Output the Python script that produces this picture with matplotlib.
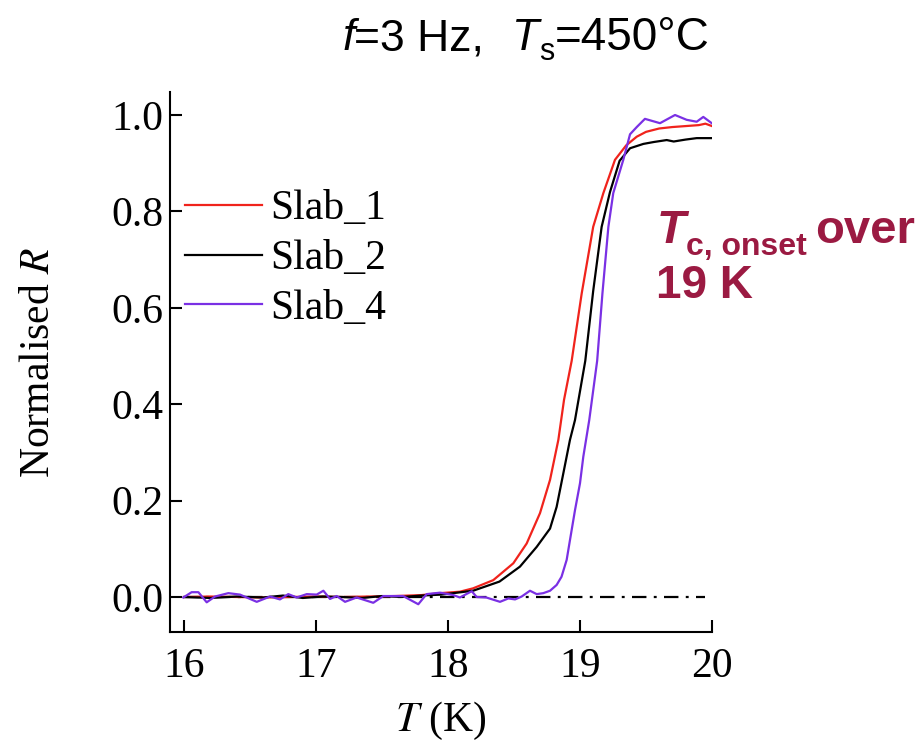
import matplotlib
matplotlib.use("Agg")
import matplotlib.pyplot as plt
from matplotlib.transforms import IdentityTransform

# normalised resistance vs temperature, three slabs
T_slab1 = [16.0, 16.2, 16.4, 16.6, 16.8, 17.0, 17.2, 17.4, 17.6, 17.8, 17.94, 18.09,
           18.19, 18.343, 18.495, 18.596, 18.697, 18.773, 18.836, 18.879, 18.937,
           19.013, 19.1, 19.177, 19.265, 19.35, 19.43, 19.5, 19.6, 19.7, 19.8, 19.9,
           19.95, 20.0]
R_slab1 = [0.0, 0.001, 0.0, -0.001, 0.0, 0.001, 0.0, 0.001, 0.002, 0.004, 0.008, 0.011,
           0.018, 0.035, 0.07, 0.111, 0.174, 0.243, 0.326, 0.409, 0.49,
           0.63, 0.768, 0.838, 0.907, 0.937, 0.955, 0.965, 0.972, 0.975, 0.977, 0.979,
           0.982, 0.977]

T_slab2 = [16.0, 16.2, 16.4, 16.6, 16.75, 16.9, 17.05, 17.2, 17.35, 17.5, 17.65, 17.8,
           17.95, 18.19, 18.39, 18.545, 18.672, 18.773, 18.823, 18.874, 18.924, 18.962,
           19.04, 19.1, 19.164, 19.227, 19.3, 19.379, 19.48, 19.56, 19.657, 19.71,
           19.8, 19.884, 20.0]
R_slab2 = [0.0, -0.002, 0.001, -0.001, 0.003, -0.002, 0.001, 0.0, -0.002, 0.002, 0.0, 0.003,
           0.005, 0.013, 0.032, 0.063, 0.104, 0.142, 0.187, 0.257, 0.326, 0.367,
           0.49, 0.635, 0.768, 0.84, 0.905, 0.931, 0.94, 0.944, 0.948, 0.945,
           0.949, 0.952, 0.952]

T_slab4 = [15.995, 16.058, 16.109, 16.172, 16.235, 16.336, 16.424, 16.551, 16.652, 16.727,
           16.79, 16.854, 16.93, 17.005, 17.056, 17.106, 17.157, 17.22, 17.308, 17.434,
           17.51, 17.66, 17.775, 17.838, 17.94, 18.04, 18.09, 18.18, 18.217, 18.29,
           18.394, 18.457, 18.508, 18.558, 18.621, 18.672, 18.722, 18.773, 18.823,
           18.86, 18.899, 18.924, 18.962, 19.0, 19.025, 19.07, 19.13, 19.17, 19.215,
           19.252, 19.328, 19.379, 19.43, 19.492, 19.606, 19.72, 19.808, 19.884,
           19.934, 19.998]
R_slab4 = [-0.001, 0.010, 0.010, -0.011, 0.001, 0.008, 0.005, -0.010, 0.001, -0.005,
           0.006, -0.001, 0.006, 0.005, 0.013, -0.004, 0.002, -0.010, -0.001, -0.012,
           0.002, 0.002, -0.015, 0.006, 0.009, 0.004, -0.001, 0.012, 0.0, -0.001,
           -0.010, -0.003, -0.005, 0.001, 0.013, 0.006, 0.008, 0.013, 0.025,
           0.042, 0.077, 0.118, 0.18, 0.236, 0.291, 0.367, 0.49, 0.63, 0.768,
           0.838, 0.907, 0.96, 0.975, 0.992, 0.983, 1.0, 0.99, 0.986,
           0.996, 0.983]

labels = ["Slab_1", "Slab_2", "Slab_4"]
colors = ["#f0231c", "#000000", "#7a30e4"]

plt.rcParams["font.family"] = "Liberation Serif"
plt.rcParams["mathtext.fontset"] = "stix"

W, H = 919, 745
fig = plt.figure(figsize=(W / 100, H / 100), dpi=100)
ax = fig.add_axes([170 / W, 1 - 632 / H, (712 - 170) / W, (632 - 92) / H])

ax.plot([16, 19.95], [0, 0], color="black", lw=1.6, dashes=(6.5, 3.3, 1.3, 3.3), zorder=1)
for T, R, lab, c in zip([T_slab1, T_slab2, T_slab4], [R_slab1, R_slab2, R_slab4], labels, colors):
    ax.plot(T, R, color=c, lw=1.6, label=lab, zorder=2)

ax.set_xlim(15.894, 20)
ax.set_ylim(-0.0726, 1.0477)
ax.set_xticks([16, 17, 18, 19, 20])
ax.set_yticks([0.0, 0.2, 0.4, 0.6, 0.8, 1.0])
ax.set_yticklabels(["0.0", "0.2", "0.4", "0.6", "0.8", "1.0"])
for s in ["top", "right"]:
    ax.spines[s].set_visible(False)
for s in ["left", "bottom"]:
    ax.spines[s].set_linewidth(1.5)
ax.tick_params(direction="in", length=8.5, width=1.5, labelsize=30)
ax.tick_params(axis="x", pad=11)
ax.tick_params(axis="y", pad=5)
ax.set_xlabel("$T$ (K)", fontsize=30, labelpad=10)
ax.set_ylabel("Normalised $R$", fontsize=30, labelpad=38)

ax.legend(loc="upper left", bbox_to_anchor=(185 / W, 1 - 190 / H),
          bbox_transform=fig.transFigure, frameon=False, fontsize=30,
          handlelength=1.84, handletextpad=0.2, labelspacing=0.27,
          borderpad=0, borderaxespad=0)

# text pieces laid out left to right in pixel coordinates
renderer = fig.canvas.get_renderer()


def put_run(x, y, pieces):
    for s, dy, kw in pieces:
        t = fig.text(x, H - y - dy, s, transform=IdentityTransform(), va="baseline", **kw)
        x = t.get_window_extent(renderer).x1
    return x


sans = dict(family="Liberation Sans", fontsize=32)
put_run(342, 50, [
    ("f", 0, dict(style="italic", **sans)),
    ("=3 Hz,", 0, sans),
])
put_run(512, 50, [
    ("T", 0, dict(style="italic", **sans)),
    ("s", 10, dict(family="Liberation Sans", fontsize=22)),
    ("=450\u00b0C", 0, dict(family="Liberation Sans", fontsize=33)),
])

red_txt = "#9b1a42"
bold = dict(family="Liberation Sans", weight="bold", color=red_txt)
put_run(657, 243, [
    ("T", 0, dict(fontsize=34, style="italic", **bold)),
    ("c, onset ", 12, dict(fontsize=23, **bold)),
    ("over", 0, dict(fontsize=34, **bold)),
])
put_run(656, 298, [("19 K", 0, dict(fontsize=33, **bold))])

fig.savefig("out.png", dpi=100)
